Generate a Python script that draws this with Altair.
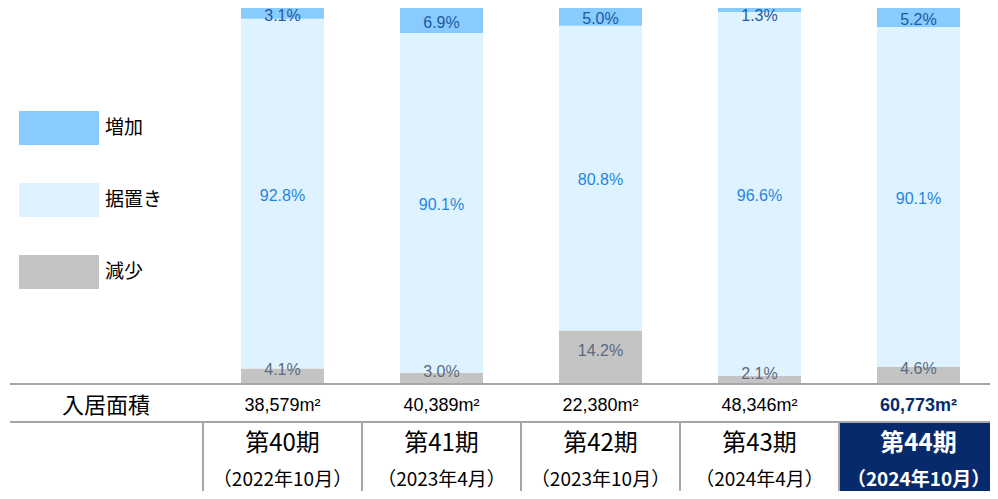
import altair as alt
import pandas as pd

# ---- data ----
periods = ["第40期", "第41期", "第42期", "第43期", "第44期"]
dates = ["（2022年10月）", "（2023年4月）", "（2023年10月）", "（2024年4月）", "（2024年10月）"]
areas = ["38,579m²", "40,389m²", "22,380m²", "48,346m²", "60,773m²"]
series = ["増加", "据置き", "減少"]
increase = [3.1, 6.9, 5.0, 1.3, 5.2]
flat = [92.8, 90.1, 80.8, 96.6, 90.1]
decrease = [4.1, 3.0, 14.2, 2.1, 4.6]
highlight = "第44期"

# ---- build tables ----
rows = []
for i, p in enumerate(periods):
    base = 0.0
    for s, v in (("減少", decrease[i]), ("据置き", flat[i]), ("増加", increase[i])):
        mid = base + v / 2
        if s == "増加":
            mid = min(mid, 98.4)  # keep thin top labels inside the view
        rows.append({"period": p, "series": s, "value": v, "y0": base, "y1": base + v,
                     "mid": mid, "label": f"{v:.1f}%"})
        base += v
bars = pd.DataFrame(rows)
table = pd.DataFrame({"period": periods, "date": dates, "area": areas,
                      "hl": [p == highlight for p in periods]})

COL_INC = "#88CBFF"
COL_FLAT = "#DFF2FF"
COL_DEC = "#C4C4C4"
NAVY = "#072A6C"
GRID = "#A6A6A6"
FJP = "Noto Sans CJK JP"
FNUM = "Liberation Sans"

# layout (page coordinates; the negative padding cancels the page margin)
BASE_Y = 384
TOP_Y = 7
ROW1_Y = 406
LINE2_Y = 422
PER_Y = 444
DATE_Y = 480
BOTTOM_Y = 491

xscale = alt.Scale(domain=periods, range=[203, 998], paddingInner=0, paddingOuter=0)
yscale = alt.Scale(domain=[0, 100], range=[BASE_Y, TOP_Y])
X = alt.X("period:N", scale=xscale, axis=None, sort=periods)

bar_layer = alt.Chart(bars).mark_bar(width=83).encode(
    x=X,
    y=alt.Y("y0:Q", scale=yscale, axis=None),
    y2="y1:Q",
    color=alt.Color("series:N",
                    scale=alt.Scale(domain=series, range=[COL_INC, COL_FLAT, COL_DEC]),
                    legend=alt.Legend(orient="none", legendX=19, legendY=88, title=None,
                                      symbolType="M-1,-0.425H1V0.425H-1Z", symbolSize=6400,
                                      symbolStrokeWidth=0, symbolOpacity=1,
                                      labelFont=FJP, labelFontSize=19, labelColor="#000000",
                                      labelOffset=6, rowPadding=15)),
)

def pct_text(s, color, dy):
    return alt.Chart(bars).transform_filter(alt.datum.series == s).mark_text(
        font=FNUM, fontSize=16, color=color, dy=dy, baseline="middle", align="center"
    ).encode(x=X, y=alt.Y("mid:Q", scale=yscale, axis=None), text="label:N")

t_inc = pct_text("増加", "#1D5A9E", 3)
t_flat = pct_text("据置き", "#1F86E0", 2)
t_dec = pct_text("減少", "#5A6A80", -6)

hline_top = alt.Chart(table).mark_rule(color=GRID, strokeWidth=2).encode(
    x=alt.value(10), x2=alt.value(998), y=alt.value(BASE_Y))
hline_mid = alt.Chart(table).mark_rule(color=GRID, strokeWidth=2).encode(
    x=alt.value(10), x2=alt.value(998), y=alt.value(LINE2_Y))

vlines = alt.Chart(table).mark_rule(color=GRID, strokeWidth=2).encode(
    x=alt.X("period:N", scale=xscale, axis=None, sort=periods, bandPosition=0),
    y=alt.value(LINE2_Y), y2=alt.value(BOTTOM_Y + 10))

navy = alt.Chart(table).transform_filter(alt.datum.hl).mark_rect(color=NAVY).encode(
    x=X, y=alt.value(LINE2_Y + 1), y2=alt.value(BOTTOM_Y + 10))

row_title = alt.Chart(table).transform_filter(alt.datum.hl).mark_text(
    font=FJP, fontSize=22, color="#000000", baseline="middle", text="入居面積"
).encode(x=alt.value(106), y=alt.value(ROW1_Y))

area_norm = alt.Chart(table).transform_filter(~alt.datum.hl).mark_text(
    font=FNUM, fontSize=18, color="#000000", baseline="middle"
).encode(x=X, y=alt.value(ROW1_Y), text="area:N")
area_hl = alt.Chart(table).transform_filter(alt.datum.hl).mark_text(
    font=FNUM, fontSize=18, color=NAVY, fontWeight="bold", baseline="middle"
).encode(x=X, y=alt.value(ROW1_Y), text="area:N")

per_norm = alt.Chart(table).transform_filter(~alt.datum.hl).mark_text(
    font=FJP, fontSize=24, color="#000000", baseline="middle"
).encode(x=X, y=alt.value(PER_Y), text="period:N")
per_hl = alt.Chart(table).transform_filter(alt.datum.hl).mark_text(
    font=FJP, fontSize=24, color="#FFFFFF", fontWeight="bold", baseline="middle"
).encode(x=X, y=alt.value(PER_Y), text="period:N")

date_norm = alt.Chart(table).transform_filter(~alt.datum.hl).mark_text(
    font=FJP, fontSize=19, color="#000000", baseline="middle"
).encode(x=X, y=alt.value(DATE_Y), text="date:N")
date_hl = alt.Chart(table).transform_filter(alt.datum.hl).mark_text(
    font=FJP, fontSize=19, color="#FFFFFF", fontWeight="bold", baseline="middle"
).encode(x=X, y=alt.value(DATE_Y), text="date:N")

chart = alt.layer(
    bar_layer, t_inc, t_flat, t_dec, navy, vlines, hline_top, hline_mid,
    row_title, area_norm, area_hl, per_norm, per_hl, date_norm, date_hl
).properties(
    width=990, height=491, autosize="none",
    padding={"left": -8, "top": -8, "right": 0, "bottom": 0}
).configure_view(stroke=None)

chart.save("out.html", embed_options={"renderer": "svg", "actions": False})
